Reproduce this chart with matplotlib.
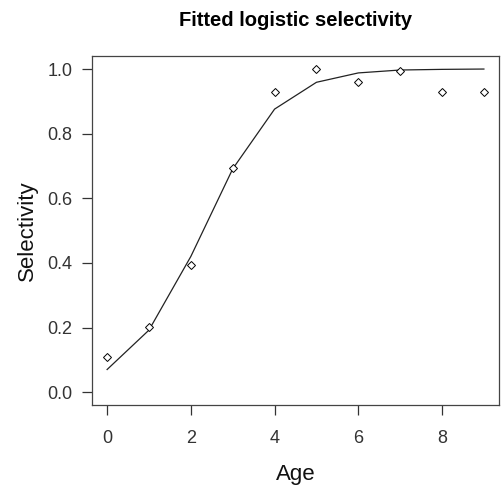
import matplotlib
matplotlib.use("Agg")
import matplotlib.pyplot as plt

plt.rcParams['font.family'] = ['Liberation Sans', 'DejaVu Sans']

# observed selectivity by age (points) and fitted logistic curve (line)
ages = [0, 1, 2, 3, 4, 5, 6, 7, 8, 9]
observed = [0.110, 0.202, 0.394, 0.694, 0.928, 1.000, 0.959, 0.993, 0.928, 0.928]
fitted = [0.070, 0.192, 0.420, 0.691, 0.876, 0.959, 0.988, 0.997, 0.999, 1.000]

x_ticks = [0, 2, 4, 6, 8]
y_ticks = [0.0, 0.2, 0.4, 0.6, 0.8, 1.0]

fig = plt.figure(figsize=(5.03, 4.88), dpi=100)
ax = fig.add_axes([0.183, 0.170, 0.809, 0.715])

ax.plot(ages, fitted, color='#222222', lw=0.9)
ax.plot(ages, observed, linestyle='none', marker='D', markersize=4.2,
        markerfacecolor='white', markeredgecolor='black', markeredgewidth=0.7)

ax.set_xlim(-0.36, 9.36)
ax.set_ylim(-0.04, 1.04)
ax.set_xticks(x_ticks)
ax.set_yticks(y_ticks)
ax.set_yticklabels([f"{v:.1f}" for v in y_ticks])
ax.tick_params(direction='out', length=7.2, width=0.9, color='#333333',
               labelsize=13, labelcolor='#333333')
ax.tick_params(axis='y', pad=7)
ax.tick_params(axis='x', pad=11)

for s in ax.spines.values():
    s.set_color('#444444')
    s.set_linewidth(0.9)

ax.set_xlabel("Age", fontsize=16, labelpad=12, color='#111111')
ax.set_ylabel("Selectivity", fontsize=16, labelpad=7, color='#111111')
fig.suptitle("Fitted logistic selectivity", fontsize=14.5, fontweight='bold',
             x=0.587, y=0.978)

fig.savefig("out.png", dpi=100)
